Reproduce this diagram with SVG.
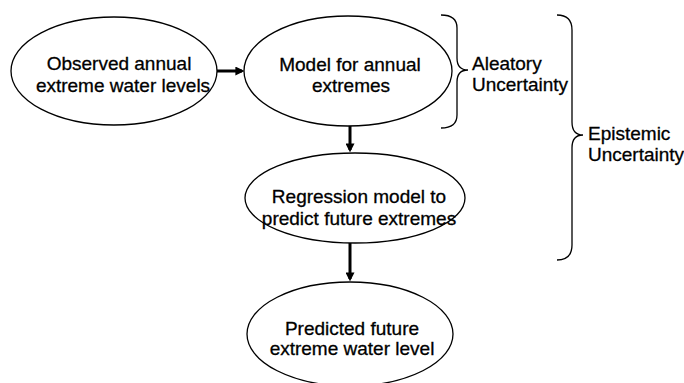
<svg xmlns="http://www.w3.org/2000/svg" width="684" height="383" viewBox="0 0 684 383">
<style>
.n{fill:#fff;stroke:#000;stroke-width:1.3}
.t{font-family:"Liberation Sans",Arial,sans-serif;font-size:19px;fill:#000;stroke:#000;stroke-width:0.3;text-anchor:middle}
.l{font-family:"Liberation Sans",Arial,sans-serif;font-size:19px;fill:#000;stroke:#000;stroke-width:0.3}
.c{stroke:#000;stroke-width:3;fill:none}
.b{stroke:#000;stroke-width:1.3;fill:none}
</style>
<defs>
<marker id="ah" markerWidth="3" markerHeight="3" refX="2.2" refY="1.5" orient="auto" markerUnits="strokeWidth">
<path d="M0,0 L3,1.5 L0,3 z" fill="#000"/>
</marker>
</defs>
<rect width="684" height="383" fill="#fff"/>
<g id="connectors">
<line class="c" x1="217" y1="71" x2="242" y2="71" marker-end="url(#ah)"/>
<line class="c" x1="350" y1="126" x2="350" y2="150" marker-end="url(#ah)"/>
<line class="c" x1="350" y1="243" x2="350" y2="279" marker-end="url(#ah)"/>
</g>
<g id="n1">
<ellipse class="n" cx="114" cy="71" rx="103" ry="54"/>
<text class="t" x="119" y="70">Observed annual</text>
<text class="t" x="123" y="92">extreme water levels</text>
</g>
<g id="n2">
<ellipse class="n" cx="348" cy="71" rx="104" ry="55"/>
<text class="t" x="350" y="71">Model for annual</text>
<text class="t" x="351" y="92">extremes</text>
</g>
<g id="n3">
<ellipse class="n" cx="355" cy="198" rx="110" ry="45"/>
<text class="t" x="359" y="203">Regression model to</text>
<text class="t" x="359" y="225">predict future extremes</text>
</g>
<g id="n4">
<ellipse class="n" cx="350" cy="334" rx="103" ry="52"/>
<text class="t" x="352" y="335">Predicted future</text>
<text class="t" x="352" y="355">extreme water level</text>
</g>
<g id="brace-aleatory">
<path class="b" d="M441,15 Q457,15 457,28 L457,58 Q457,70 468,70 Q457,70 457,82 L457,115 Q457,128 441,128"/>
<text class="l" x="472" y="70">Aleatory</text>
<text class="l" x="472" y="91">Uncertainty</text>
</g>
<g id="brace-epistemic">
<path class="b" d="M557,15 Q572,15 572,30 L572,122 Q572,135 583,135 Q572,135 572,148 L572,245 Q572,260 557,260"/>
<text class="l" x="588" y="140">Epistemic</text>
<text class="l" x="588" y="161">Uncertainty</text>
</g>
</svg>
